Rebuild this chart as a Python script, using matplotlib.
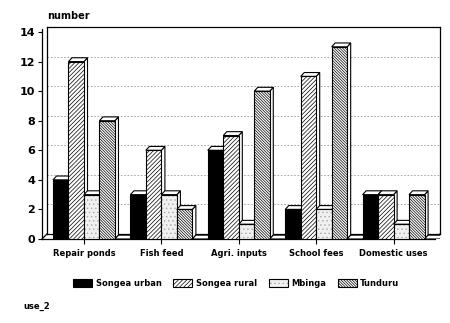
import matplotlib.pyplot as plt
from matplotlib.patches import Rectangle, Polygon

plt.rcParams['font.family'] = ['DejaVu Sans']
plt.rcParams['hatch.linewidth'] = 0.5

categories = ["Repair ponds", "Fish feed", "Agri. inputs", "School fees", "Domestic uses"]
series_names = ["Songea urban", "Songea rural", "Mbinga", "Tunduru"]
songea_urban = [4, 3, 6, 2, 3]
songea_rural = [12, 6, 7, 11, 3]
mbinga = [3, 3, 1, 2, 1]
tunduru = [8, 2, 10, 13, 3]
y_ticks = [0, 2, 4, 6, 8, 10, 12, 14]

series = [songea_urban, songea_rural, mbinga, tunduru]
# face, hatch, hatch colour for each series
styles = [
    ("black", "", "black"),
    ("white", "/" * 8, "black"),
    ("#f0f0f0", "....", "#a8a8a8"),
    ("white", "\\" * 12, "black"),
]

fig = plt.figure(figsize=(4.5, 3.23), dpi=100)
ax = fig.add_axes([42 / 450, 84 / 323, 398 / 450, 212 / 323])
x0, x1 = -0.71, 25.0
y1 = 14.34
ax.set_xlim(x0, x1)
ax.set_ylim(0, y1)

# depth of the back wall and of the bars (data units)
wdx, wdy = 0.32, 0.34
bdx, bdy = 0.23, 0.26

lk = dict(color="black", lw=0.9, clip_on=False, zorder=2)
# back wall and floor
ax.plot([x0 + wdx, x0 + wdx], [wdy, y1], **lk)
ax.plot([x0 + wdx, x1], [y1, y1], **lk)
ax.plot([x1, x1], [y1, wdy], **lk)
ax.plot([x1, x1 - wdx], [wdy, 0], **lk)
ax.plot([x0 + wdx, x1], [wdy, wdy], **lk)
ax.plot([x0, x0 + wdx], [0, wdy], **lk)
for k in y_ticks[1:-1]:
    ax.plot([x0 + wdx, x1], [k + wdy, k + wdy], color="#9a9a9a", lw=0.6,
            ls=(0, (2, 2)), zorder=1)

def draw_bar(x, h, face, hatch, hcol, z):
    ax.add_patch(Polygon([(x + 1, 0), (x + 1 + bdx, bdy), (x + 1 + bdx, h + bdy), (x + 1, h)],
                         facecolor="white", edgecolor="black", lw=0.8, zorder=z))
    ax.add_patch(Polygon([(x, h), (x + bdx, h + bdy), (x + 1 + bdx, h + bdy), (x + 1, h)],
                         facecolor="white", edgecolor="black", lw=0.8, zorder=z))
    ax.add_patch(Rectangle((x, 0), 1, h, facecolor=face, hatch=hatch, edgecolor=hcol,
                           lw=0, zorder=z + 0.001))
    ax.add_patch(Rectangle((x, 0), 1, h, fill=False, edgecolor="black", lw=0.8,
                           zorder=z + 0.002))

z = 3
for g in range(len(categories)):
    for j, vals in enumerate(series):
        face, hatch, hcol = styles[j]
        draw_bar(g * 5 + j, vals[g], face, hatch, hcol, z)
        z += 0.01
    # empty slot between groups
    draw_bar(g * 5 + 4, 0, "white", "", "black", z)
    z += 0.01

for s in ["top", "right"]:
    ax.spines[s].set_visible(False)
ax.spines["left"].set_bounds(0, 14.2)
ax.spines["bottom"].set_bounds(x0, x1 - wdx)
ax.spines["left"].set_linewidth(0.9)
ax.spines["bottom"].set_linewidth(0.9)

ax.set_xticks([g * 5 + 2 for g in range(len(categories))])
ax.set_xticklabels(categories, fontsize=6, fontweight="bold")
ax.tick_params(axis="x", direction="inout", length=7, width=0.8, pad=4)
ax.set_yticks(y_ticks)
ax.set_yticklabels([str(v) for v in y_ticks], fontsize=8, fontweight="bold")
ax.tick_params(axis="y", direction="out", length=3, width=0.8, pad=2)

fig.text(47 / 450, 1 - 16 / 323, "number", fontsize=7, fontweight="bold", va="center")
fig.text(23 / 450, 1 - 306 / 323, "use_2", fontsize=6, fontweight="bold", va="center")

handles = []
for face, hatch, hcol in styles:
    back = Rectangle((0, 0), 1, 1, facecolor=face, hatch=hatch, edgecolor=hcol, lw=0)
    edge = Rectangle((0, 0), 1, 1, fill=False, edgecolor="black", lw=0.8)
    handles.append((back, edge))
fig.legend(handles, series_names, loc="center", bbox_to_anchor=(0.525, 1 - 283 / 323),
           ncol=4, frameon=False, prop=dict(size=6, weight="bold"),
           handlelength=2.3, handleheight=1.1, handletextpad=0.4, columnspacing=1.4)

fig.savefig("out.png", dpi=100)
